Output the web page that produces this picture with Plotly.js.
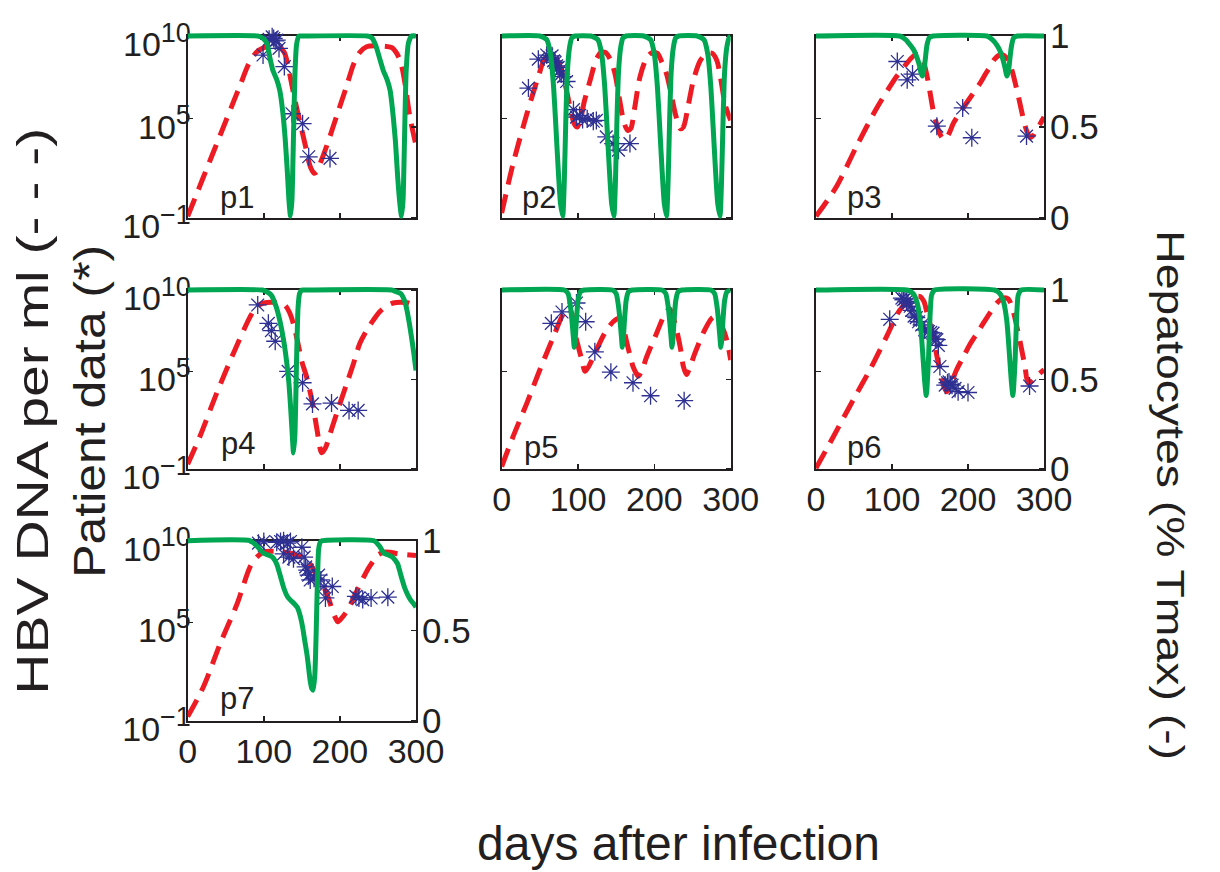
<!DOCTYPE html>
<html><head><meta charset="utf-8">
<script src="https://cdn.plot.ly/plotly-3.0.1.min.js"></script>
<style>html,body{margin:0;padding:0;background:#fff;}#chart{width:1220px;height:872px;}</style>
</head><body><div id="chart"></div>
<script>
// ---------------- DATA ----------------
// Virus model curves: days and log10(HBV DNA per ml)
const p1VirDays = [0,10,20,30,40,50,60,70,80,90,100,110,120,127,132,137,142,147,151,155,158,162,166,170,175,183,196,209,218,226,235,253,268,274,279,283,286,292,300];
const p1VirLog  = [-0.9,0.25,1.4,2.55,3.7,4.85,6.0,7.15,8.3,9.0,9.3,9.4,9.35,9.0,8.15,7.0,5.9,4.9,4.1,3.3,2.6,2.0,1.7,1.8,2.4,3.4,5.2,7.0,8.3,9.0,9.35,9.4,9.3,9.0,8.55,7.8,7.0,5.1,3.4];
const p2VirDays = [0,15,33,48,56,63,70,77,84,90,95,99,103,108,116,124,130,136,142,148,155,160,165,169,174,181,190,197,204,210,216,222,228,234,238,244,251,260,268,276,282,287,293,300];
const p2VirLog  = [-0.7,2.3,5.3,7.55,8.6,8.85,8.75,8.1,6.9,5.6,4.7,4.5,4.9,6.0,7.35,8.6,9.0,9.0,8.6,7.8,6.0,4.8,4.3,4.4,5.6,7.5,8.7,9.0,8.95,8.4,7.7,6.5,5.2,4.4,4.5,5.7,7.3,8.5,8.95,8.95,8.5,7.4,5.8,4.9];
const p3VirDays = [0,27,53,80,106,117,124,130,136,141,146,150,154,158,162,166,170,175,181,190,198,207,216,223,229,235,242,248,253,258,263,268,273,277,282,286,290,295,300];
const p3VirLog  = [-0.9,0.9,3.3,5.65,7.55,8.2,8.6,8.85,8.85,8.5,7.6,6.6,5.55,4.8,4.2,3.85,3.75,4.1,4.75,5.4,5.95,6.55,7.15,7.7,8.15,8.6,8.85,8.8,8.5,7.9,7.0,6.0,4.95,4.3,3.85,4.0,4.35,4.7,5.1];
const p4VirDays = [0,16,38,60,82,91,100,110,120,128,134,139,145,150,156,161,165,170,176,181,186,196,209,218,226,235,244,252,261,270,280,290,300];
const p4VirLog  = [-0.7,1.0,3.65,6.1,8.35,9.0,9.2,9.25,9.2,9.05,8.6,7.9,6.7,5.6,4.7,3.7,2.8,1.4,0.0,0.3,1.0,2.45,4.25,5.5,6.7,7.5,8.15,8.65,9.0,9.2,9.25,9.2,9.0];
const p5VirDays = [0,15,33,50,68,81,88,92,96,101,105,109,114,122,135,146,153,158,164,168,172,176,179,184,190,203,214,220,225,231,235,238,242,247,253,266,275,279,284,290,295,300];
const p5VirLog  = [-0.85,1.0,3.05,5.1,7.15,8.55,8.85,8.55,7.35,6.4,5.7,5.0,5.3,6.1,7.35,8.05,8.25,7.9,6.75,6.0,5.3,4.9,4.7,5.1,5.9,7.35,8.55,8.85,8.3,7.15,6.2,5.3,4.8,5.3,6.1,7.55,8.25,8.35,8.1,7.6,6.9,5.7];
const p6VirDays = [0,23,49,71,93,110,124,131,137,142,146,150,154,158,161,165,168,172,178,185,194,203,212,220,229,238,246,253,260,264,268,272,275,279,284,290,300];
const p6VirLog  = [-0.95,1.0,3.25,5.1,7.15,8.75,9.45,9.6,9.6,9.3,8.6,7.9,7.15,6.2,5.5,4.7,4.1,3.75,4.3,5.1,5.9,6.7,7.35,7.95,8.6,9.2,9.5,9.45,8.6,7.8,6.95,6.0,5.3,4.3,4.4,4.7,5.1];
const p7VirDays = [0,21,43,65,82,91,100,110,122,139,150,157,164,170,176,181,186,190,194,197,201,210,223,236,243,249,258,266,276,288,300];
const p7VirLog  = [-0.75,1.1,3.75,6.15,8.4,9.0,9.3,9.35,9.33,9.2,9.0,8.8,8.35,7.8,7.4,6.95,6.35,5.75,5.3,5.05,5.2,5.75,7.0,8.2,8.7,9.1,9.3,9.3,9.2,9.15,9.1];

// Hepatocyte model curves: days and fraction of Tmax
const p1HepDays = [0,92,98,104,108,112,117,121,125,128,131,133,135,137,139,141,143,146,150,236,242,247,252,257,262,266,270,273,276,279,281,283,285,287,290,294,300];
const p1HepFrac = [1,1,0.99,0.96,0.88,0.81,0.76,0.7,0.58,0.44,0.25,0.1,0.01,0.1,0.45,0.8,0.95,1,1,1,0.99,0.95,0.88,0.81,0.76,0.7,0.56,0.42,0.22,0.07,0.01,0.1,0.45,0.8,0.96,1,1];
const p2HepDays = [0,50,59,64,68,71,74,77,80,82,84,86,89,92,96,117,126,131,135,138,141,144,147,149,151,153,156,159,163,186,195,200,204,207,210,213,216,218,220,222,225,228,232,256,265,270,274,277,280,283,286,288,290,292,295,298,300];
const p2HepFrac = [1,1,0.98,0.9,0.72,0.5,0.27,0.08,0.01,0.2,0.54,0.8,0.94,0.99,1,1,0.98,0.9,0.72,0.5,0.27,0.08,0.01,0.2,0.54,0.8,0.94,0.99,1,1,0.98,0.9,0.72,0.5,0.27,0.08,0.01,0.2,0.54,0.8,0.94,0.99,1,1,0.98,0.9,0.72,0.5,0.27,0.08,0.01,0.2,0.54,0.8,0.94,0.99,1];
const p3HepDays = [0,110,118,124,129,133,136,138,140,142,144,146,149,154,225,232,238,243,246,249,251,253,255,257,260,265,300];
const p3HepFrac = [1,1,0.98,0.95,0.92,0.88,0.84,0.8,0.78,0.81,0.88,0.95,0.99,1,1,0.98,0.95,0.91,0.87,0.82,0.78,0.8,0.87,0.94,0.99,1,1];
const p4HepDays = [0,98,104,110,116,121,126,130,133,135,137,139,141,143,145,147,150,155,268,274,280,285,288,291,294,297,300];
const p4HepFrac = [1,1,0.99,0.97,0.91,0.83,0.72,0.6,0.48,0.36,0.22,0.09,0.2,0.6,0.9,0.98,1,1,1,0.99,0.98,0.94,0.89,0.82,0.74,0.65,0.55];
const p5HepDays = [0,82,87,90,92,94,95,96,98,100,103,108,145,150,153,155,157,158,159,161,163,166,171,210,215,218,220,222,223,224,226,228,231,236,274,279,282,284,286,287,288,290,292,295,300];
const p5HepFrac = [1,1,0.98,0.91,0.83,0.73,0.68,0.71,0.84,0.94,0.99,1,1,0.98,0.91,0.83,0.73,0.68,0.71,0.84,0.94,0.99,1,1,0.98,0.91,0.83,0.73,0.68,0.71,0.84,0.94,0.99,1,1,0.98,0.91,0.83,0.73,0.68,0.71,0.84,0.94,0.99,1];
const p6HepDays = [0,120,128,133,137,139,141,143,145,146,148,150,152,156,235,242,247,251,253,255,257,259,260,262,264,266,270,300];
const p6HepFrac = [1,1,0.98,0.93,0.83,0.73,0.61,0.49,0.41,0.45,0.61,0.85,0.97,1,1,0.98,0.93,0.83,0.73,0.61,0.49,0.41,0.45,0.61,0.85,0.97,1,1];
const p7HepDays = [0,82,91,100,111,117,122,126,131,135,140,144,148,151,154,157,159,161,163,165,167,168,169,170,171,172,174,177,245,252,258,264,269,273,276,280,285,289,293,297,300];
const p7HepFrac = [1,1,0.97,0.93,0.91,0.87,0.8,0.74,0.69,0.67,0.65,0.63,0.58,0.52,0.44,0.36,0.29,0.22,0.18,0.17,0.25,0.36,0.52,0.7,0.85,0.95,0.99,1,1,0.97,0.93,0.92,0.91,0.89,0.87,0.81,0.74,0.7,0.67,0.65,0.63];

// Patient data: days and log10(HBV DNA per ml)
const p1PatDays = [99,107,111,113,115,117,120,127,137,151,159,187];
const p1PatLog  = [8.85,9.8,9.95,9.85,9.7,9.75,9.25,8.15,5.3,4.7,2.7,2.6];
const p2PatDays = [35,48,59,63,66,68,70,72,74,76,78,81,85,94,98,102,106,112,120,124,137,146,153,168];
const p2PatLog  = [6.85,8.6,8.85,8.7,8.8,8.5,8.4,8.2,8.1,7.9,7.7,7.55,7.25,5.55,5.1,5.2,4.95,5.0,4.85,4.9,3.9,3.5,3.1,3.5];
const p3PatDays = [107,120,127,159,193,205,277];
const p3PatLog  = [8.46,7.35,7.7,4.55,5.65,3.85,3.95];
const p4PatDays = [92,106,110,115,132,151,164,189,212,224];
const p4PatLog  = [9.08,7.95,7.5,6.85,5.0,4.3,3.0,3.05,2.6,2.6];
const p5PatDays = [65,79,98,110,122,143,172,195,239];
const p5PatLog  = [7.95,8.65,9.2,8.05,6.2,4.95,4.3,3.5,3.2];
const p6PatDays = [97,113,115,117,119,121,124,126,129,132,135,139,143,148,151,154,157,159,161,163,170,173,175,177,179,183,187,200,281];
const p6PatLog  = [8.2,9.5,9.4,9.45,9.3,9.2,9.0,8.75,8.4,8.3,8.05,7.85,7.55,7.45,7.4,7.35,7.0,6.95,6.6,5.3,4.15,4.3,4.35,4.2,4.15,3.95,3.75,3.7,4.1];
const p7PatDays = [93,100,117,122,126,131,135,126,133,139,150,153,155,157,159,161,166,172,175,179,181,190,221,225,230,241,263];
const p7PatLog  = [9.85,9.95,9.9,9.95,10.0,9.85,9.95,9.2,9.0,8.9,9.6,9.0,8.4,8.2,7.9,7.6,7.7,7.9,7.6,7.2,6.5,7.2,6.6,6.5,6.4,6.5,6.55];

const panelNames = ['p1','p2','p3','p4','p5','p6','p7'];
const xTickVals = [0,100,200,300];
const xTickText = ['0','100','200','300'];
const yLeftTickVals = [0.1,1e5,1e10];
const yLeftTickText = ['10<sup><span style="font-size:27px">\u22121</span></sup>','10<sup><span style="font-size:27px">5</span></sup>','10<sup><span style="font-size:27px">10</span></sup>'];
const yRightTickVals = [0,0.5,1];
const yRightTickText = ['0','0.5','1'];
const titleLeft1 = 'HBV DNA per ml (- - -)';
const titleLeft2 = 'Patient data (*)';
const titleRight = 'Hepatocytes (% Tmax) (-)';
const titleBottom = 'days after infection';

const virDays = [p1VirDays,p2VirDays,p3VirDays,p4VirDays,p5VirDays,p6VirDays,p7VirDays];
const virLog  = [p1VirLog,p2VirLog,p3VirLog,p4VirLog,p5VirLog,p6VirLog,p7VirLog];
const hepDays = [p1HepDays,p2HepDays,p3HepDays,p4HepDays,p5HepDays,p6HepDays,p7HepDays];
const hepFrac = [p1HepFrac,p2HepFrac,p3HepFrac,p4HepFrac,p5HepFrac,p6HepFrac,p7HepFrac];
const patDays = [p1PatDays,p2PatDays,p3PatDays,p4PatDays,p5PatDays,p6PatDays,p7PatDays];
const patLog  = [p1PatLog,p2PatLog,p3PatLog,p4PatLog,p5PatLog,p6PatLog,p7PatLog];

// ---------------- LAYOUT ----------------
const W = 1220, H = 872;
const INK = '#231f20';
const FONT = 'Liberation Sans, Arial, Helvetica, sans-serif';
const colPx = [[187.7,416],[501.7,730.7],[816,1044]];
const rowPx = [[36,218],[290,469],[540.7,720.7]];
const panelPos = [[0,0],[0,1],[0,2],[1,0],[1,1],[1,2],[2,0]]; // [row,col]
const showLeftLbl  = [true,false,false,true,false,false,true];
const showRightLbl = [false,false,true,false,false,true,true];
const showXLbl     = [false,false,false,false,true,true,true];
const labelPos = [[0.215,0.11],[0.165,0.11],[0.21,0.11],[0.22,0.14],[0.17,0.12],[0.21,0.12],[0.215,0.126]];
const PAD = 0.04;

const data = [];
const layout = {
  width: W, height: H,
  margin: {l:0, r:0, t:0, b:0, pad:0},
  paper_bgcolor: '#ffffff', plot_bgcolor: 'rgba(0,0,0,0)',
  showlegend: false,
  font: {family: FONT, color: INK},
  annotations: [
    {text: titleLeft1, xref:'paper', yref:'paper', x: 32/W, y: 1-411/H, textangle: -90, showarrow:false, xanchor:'center', yanchor:'middle', font:{size:44, family:FONT, color:INK}},
    {text: titleLeft2, xref:'paper', yref:'paper', x: 89/W, y: 1-411/H, textangle: -90, showarrow:false, xanchor:'center', yanchor:'middle', font:{size:44, family:FONT, color:INK}},
    {text: titleRight, xref:'paper', yref:'paper', x: 1170/W, y: 1-495/H, textangle: 90, showarrow:false, xanchor:'center', yanchor:'middle', font:{size:38, family:FONT, color:INK}},
    {text: titleBottom, xref:'paper', yref:'paper', x: 678/W, y: 1-843/H, showarrow:false, xanchor:'center', yanchor:'middle', font:{size:48, family:FONT, color:INK}}
  ]
};

for (let i = 0; i < 7; i++) {
  const n = i + 1;
  const xs = n === 1 ? '' : String(n);
  const yl = 2*i + 1, yr = 2*i + 2;
  const yls = yl === 1 ? '' : String(yl);
  const yrs = String(yr);
  const [r, c] = panelPos[i];
  const xd = [colPx[c][0]/W, colPx[c][1]/W];
  const yd = [1 - rowPx[r][1]/H, 1 - rowPx[r][0]/H];
  const hgt = yd[1] - yd[0];
  const yd2 = [yd[0] - PAD*hgt, yd[1] + PAD*hgt];

  layout['xaxis' + xs] = {
    domain: xd, range: [0,300], anchor: 'y' + yls,
    tickmode: 'array', tickvals: xTickVals, ticktext: xTickText,
    ticks: 'inside', ticklen: 5, tickwidth: 1.5, tickcolor: INK,
    showline: true, linewidth: 2, linecolor: INK, mirror: 'ticks',
    showgrid: false, zeroline: false, showticklabels: showXLbl[i],
    tickfont: {size: 34, family: FONT, color: INK}, ticklabelstandoff: -1,
    layer: 'below traces', fixedrange: true
  };
  layout['yaxis' + yls] = {
    domain: yd, type: 'log', range: [-1, 10], anchor: 'x' + xs,
    tickmode: 'array', tickvals: yLeftTickVals, ticktext: yLeftTickText,
    ticks: 'inside', ticklen: 5, tickwidth: 1.5, tickcolor: INK,
    showline: true, linewidth: 2, linecolor: INK, mirror: true,
    showgrid: false, zeroline: false, showticklabels: showLeftLbl[i],
    tickfont: {size: 34, family: FONT, color: INK}, ticklabelstandoff: -12, ticklabelshift: 8,
    layer: 'below traces', fixedrange: true
  };
  layout['yaxis' + yrs] = {
    domain: yd2, range: [-PAD, 1 + PAD], anchor: 'x' + xs, side: 'right',
    tickmode: 'array', tickvals: yRightTickVals, ticktext: yRightTickText,
    ticks: 'inside', ticklen: 5, tickwidth: 1.5, tickcolor: INK,
    showline: false, showgrid: false, zeroline: false, showticklabels: showRightLbl[i],
    tickfont: {size: 35, family: FONT, color: INK}, ticklabelstandoff: 5,
    layer: 'below traces', fixedrange: true
  };

  data.push({
    x: virDays[i], y: virLog[i].map(v => Math.pow(10, v)),
    xaxis: 'x' + xs, yaxis: 'y' + yls, type: 'scatter', mode: 'lines',
    line: {color: '#ed1c24', width: 5, dash: '19px,10px', shape: 'spline', smoothing: 0.8},
    hoverinfo: 'skip'
  });
  data.push({
    x: patDays[i], y: patLog[i].map(v => Math.pow(10, v)),
    xaxis: 'x' + xs, yaxis: 'y' + yls, type: 'scatter', mode: 'markers', cliponaxis: false,
    marker: {symbol: 'asterisk-open', size: 15, color: '#2e3192', line: {color: '#2e3192', width: 1.3}},
    hoverinfo: 'skip'
  });
  data.push({
    x: hepDays[i], y: hepFrac[i],
    xaxis: 'x' + xs, yaxis: 'y' + yrs, type: 'scatter', mode: 'lines',
    line: {color: '#00a651', width: 5, shape: 'spline', smoothing: 0.5},
    hoverinfo: 'skip'
  });

  layout.annotations.push({
    text: panelNames[i], xref: 'x' + xs + ' domain', yref: 'y' + yls + ' domain',
    x: labelPos[i][0], y: labelPos[i][1], showarrow: false, xanchor: 'center', yanchor: 'middle',
    font: {size: 31, family: FONT, color: INK}
  });
}

function stretchTitles() {
  const targets = {'0': 567, '1': 333, '2': 530};
  document.querySelectorAll('#chart g.annotation').forEach(g => {
    const t = targets[g.getAttribute('data-index')];
    if (!t) return;
    const txt = g.querySelector('text.annotation-text');
    if (!txt) return;
    try {
      const bb = txt.getBBox();
      if (!bb.width) return;
      const s = t / bb.width;
      const cx = bb.x + bb.width / 2;
      const prev = txt.getAttribute('transform') || '';
      txt.setAttribute('transform', prev + ' translate(' + cx + ',0) scale(' + s + ',1) translate(' + (-cx) + ',0)');
    } catch (e) {}
  });
}

Plotly.newPlot('chart', data, layout, {staticPlot: true, displayModeBar: false}).then(stretchTitles);
</script></body></html>
